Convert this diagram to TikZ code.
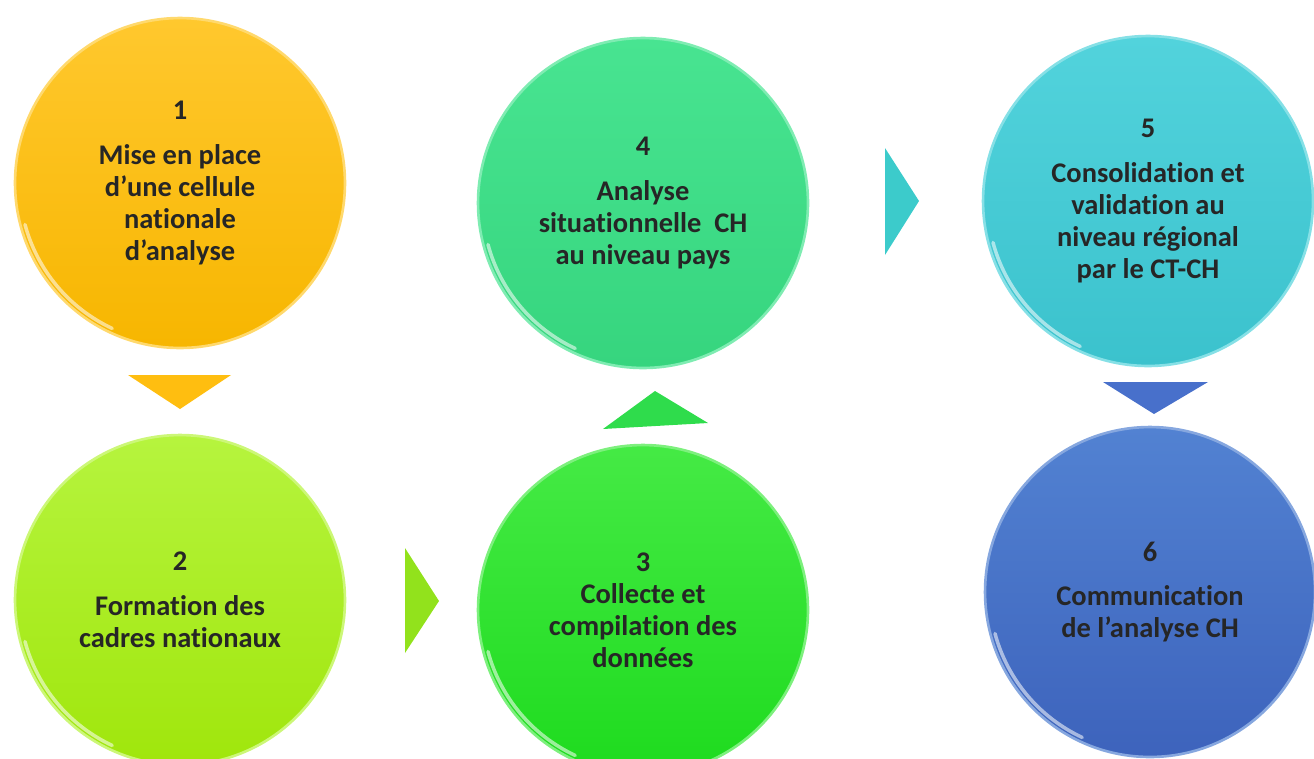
\documentclass[tikz,border=0pt]{standalone}
\usepackage{fontspec}
\setmainfont[Ligatures={NoCommon}]{Carlito}
\usepackage{tikz}
\usetikzlibrary{calc}
\definecolor{s1t}{HTML}{FFC82E}
\definecolor{s1b}{HTML}{F7B600}
\definecolor{s2t}{HTML}{B6F43E}
\definecolor{s2b}{HTML}{A0E60C}
\definecolor{s3t}{HTML}{45EA45}
\definecolor{s3b}{HTML}{1EDB1E}
\definecolor{s4t}{HTML}{48E491}
\definecolor{s4b}{HTML}{36D57E}
\definecolor{s5t}{HTML}{52D3DC}
\definecolor{s5b}{HTML}{3BC2CD}
\definecolor{s6t}{HTML}{5282D2}
\definecolor{s6b}{HTML}{3D63BC}
\definecolor{a1}{HTML}{FFBE10}
\definecolor{a2}{HTML}{92E21C}
\definecolor{a3}{HTML}{2FDC4C}
\definecolor{a4}{HTML}{3CCBCB}
\definecolor{a5}{HTML}{4870CB}

\begin{document}
\begin{tikzpicture}[x=0.02cm, y=-0.02cm,
  stage/.style={circle, minimum size=6.6cm, inner sep=0pt, align=center, line width=1.5pt,
                font=\bfseries\fontsize{16.2}{18.2}\selectfont, text=black!85},
  shine/.style={white, opacity=0.55, line width=2pt, line cap=round}]
\useasboundingbox (0,0) rectangle (1314,758);

% the six stages, two rows
\node[stage, top color=s1t, bottom color=s1b, draw=s1t!70!white] (c1) at (180,183)
  {1\\[0.26cm]Mise en place\\d’une cellule\\nationale\\d’analyse};
\node[stage, top color=s2t, bottom color=s2b, draw=s2t!70!white] (c2) at (180,600)
  {2\\[0.26cm]Formation des\\cadres nationaux};
\node[stage, top color=s3t, bottom color=s3b, draw=s3t!70!white] (c3) at (643,610)
  {3\\Collecte et\\compilation des\\données};
\node[stage, top color=s4t, bottom color=s4b, draw=s4t!70!white] (c4) at (643,203)
  {4\\[0.26cm]Analyse\\situationnelle\ \ CH\\au niveau pays};
\node[stage, top color=s5t, bottom color=s5b, draw=s5t!70!white] (c5) at (1148,201)
  {5\\[0.26cm]Consolidation et\\validation au\\niveau régional\\par le CT-CH};
\node[stage, top color=s6t, bottom color=s6b, draw=s6t!70!white] (c6) at (1150,592)
  {6\\[0.26cm]Communication\\de l’analyse CH};

% light reflection on the lower left rim
\foreach \n in {c1,c2,c3,c4,c5,c6}
  \draw[shine] ($(\n)+(195:3.21cm)$) arc[start angle=195, end angle=245, radius=3.21cm];

% triangles between the stages
\fill[a1] (128,375) -- (231,375) -- (180,409) -- cycle;
\fill[a2] (405,548) -- (439,601) -- (405,653) -- cycle;
\fill[a3] (603,429) -- (655,391) -- (708,423) -- cycle;
\fill[a4] (885,148) -- (919,201) -- (885,255) -- cycle;
\fill[a5] (1103,382) -- (1208,382) -- (1154,414) -- cycle;

\end{tikzpicture}
\end{document}
